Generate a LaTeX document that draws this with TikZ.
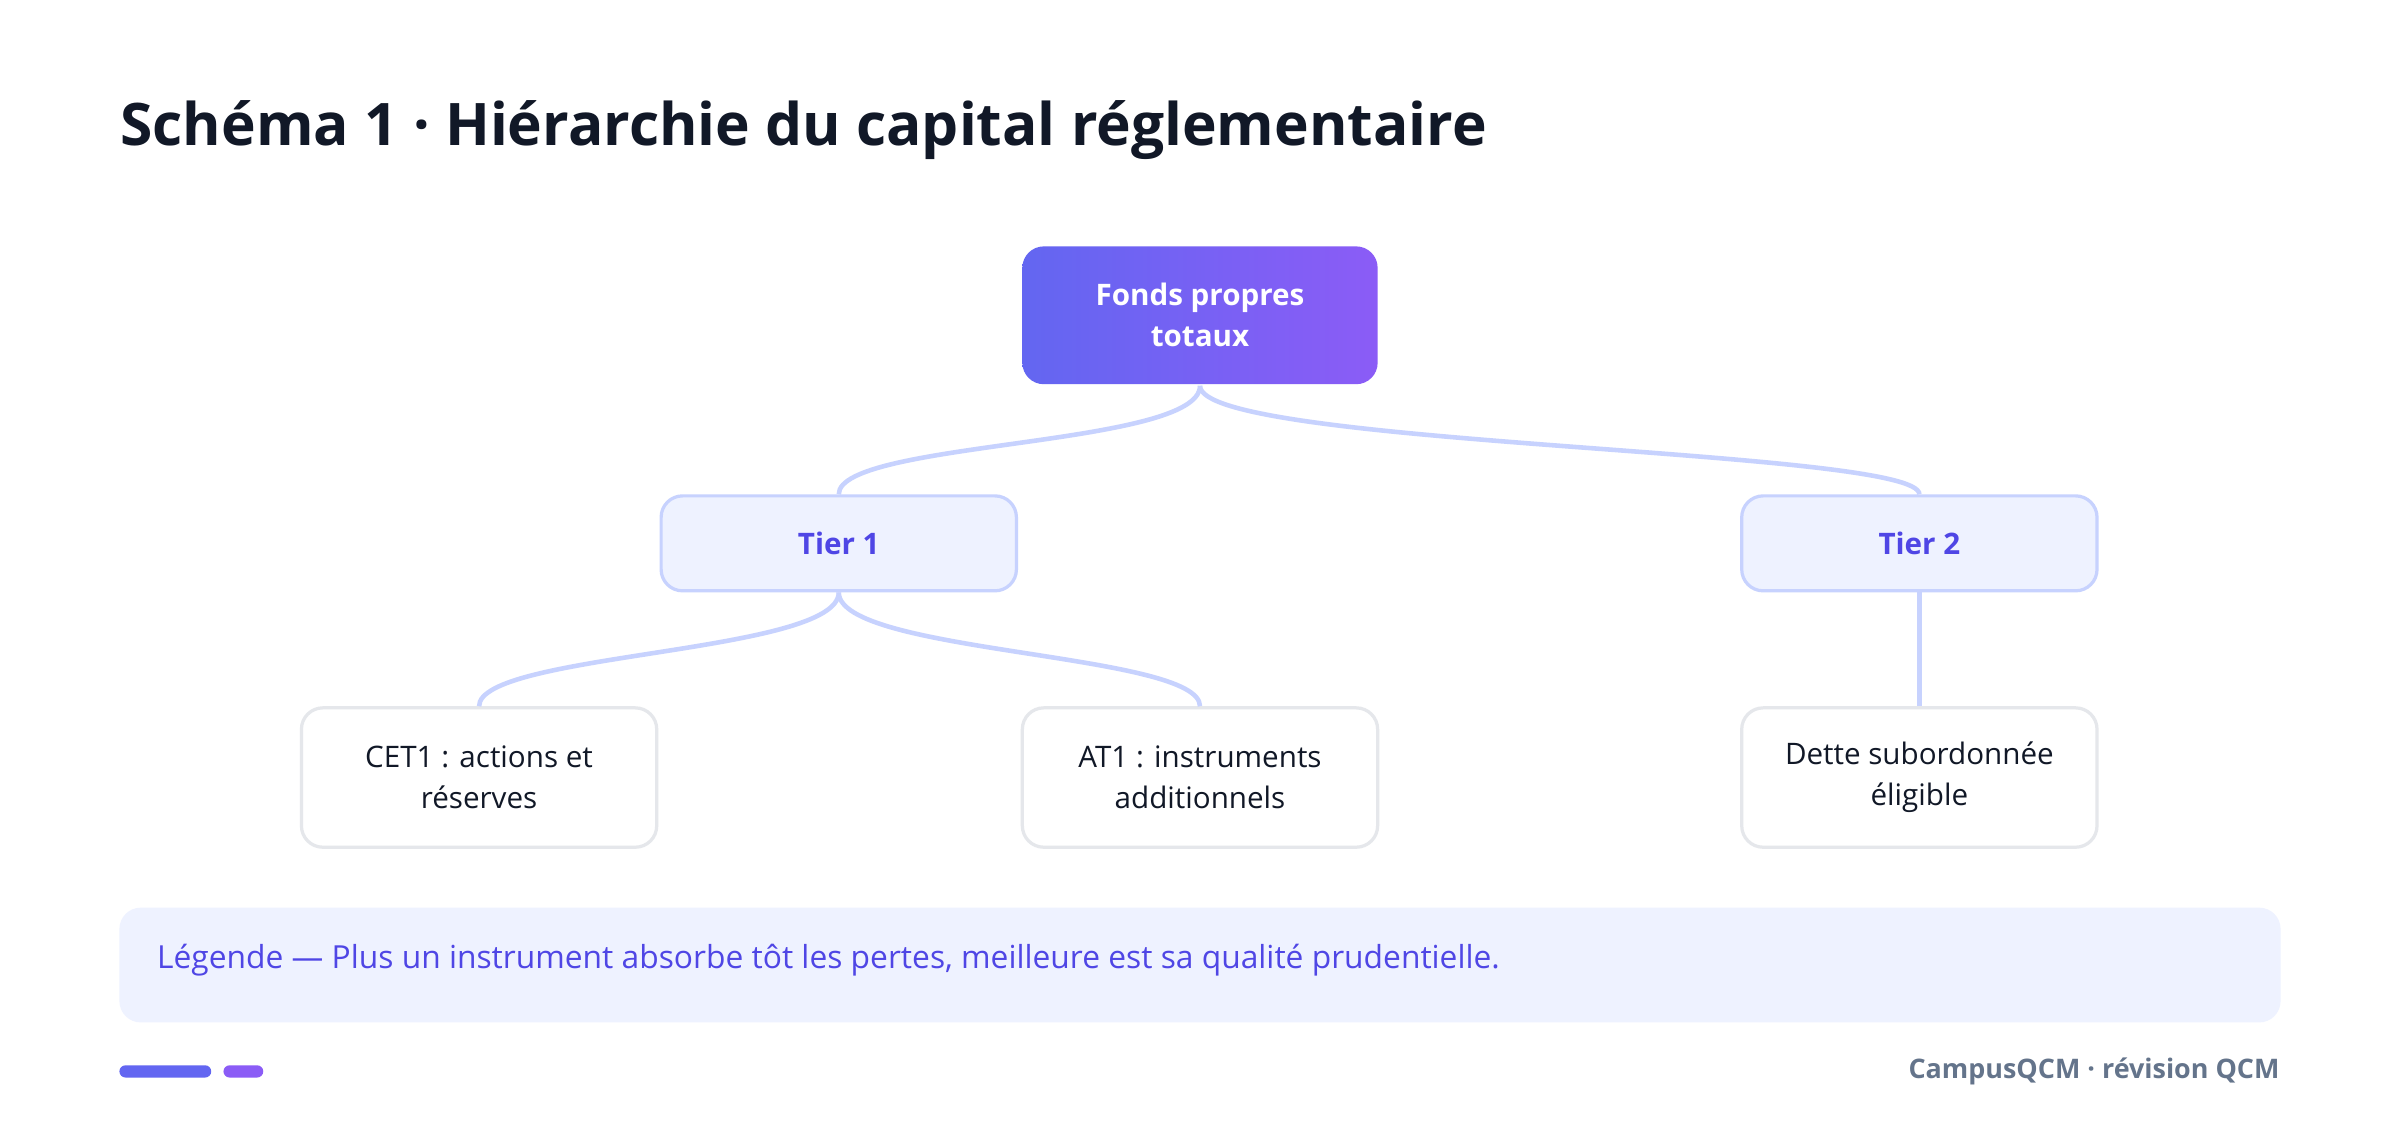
\documentclass[tikz,border=0pt]{standalone}
\usepackage{fontspec}
\setmainfont{Open Sans}
\usetikzlibrary{positioning}
\definecolor{ink}{HTML}{111827}
\definecolor{indigo}{HTML}{6366F1}
\definecolor{violet}{HTML}{8B5CF6}
\definecolor{paleblue}{HTML}{EEF2FF}
\definecolor{edgeblue}{HTML}{C7D2FE}
\definecolor{tiertext}{HTML}{4F46E5}
\definecolor{leafline}{HTML}{E5E7EB}
\definecolor{slate}{HTML}{64748B}
\tikzset{
  box/.style={rounded corners=0.14cm, minimum width=2.32cm, align=center, line width=0.6pt, font=\fontsize{5.5}{7.6}\selectfont},
  root/.style={box, minimum height=0.9cm, left color=indigo, right color=violet, text=white, font=\fontsize{5.5}{7.6}\selectfont\bfseries},
  tier/.style={box, minimum height=0.62cm, fill=paleblue, draw=edgeblue, text=tiertext, font=\fontsize{5.5}{7.6}\selectfont\bfseries},
  leaf/.style={box, minimum height=0.91cm, fill=white, draw=leafline, text=ink},
  link/.style={edgeblue, line width=0.85pt}
}
\begin{document}
\begin{tikzpicture}[x=0.01cm, y=-0.01cm]
\useasboundingbox[fill=white] (0,0) rectangle (1568,740);
% title
\node[anchor=base west, inner sep=0, text=ink, font=\fontsize{10.9}{12}\selectfont\bfseries] (title) at (78,95) {Schéma 1 · Hiérarchie du capital réglementaire};
% tree
\node[root] (total) at (784,206) {Fonds propres\\totaux};
\node[tier] (t1) at (548,355) {Tier 1};
\node[tier] (t2) at (1254,355) {Tier 2};
\node[leaf] (cet1) at (313,508) {CET1 : actions et\\réserves};
\node[leaf] (at1) at (784,508) {AT1 : instruments\\additionnels};
\node[leaf] (t2debt) at (1254,508) {Dette subordonnée\\éligible};
\draw[link] (total.south) .. controls +(0,40) and +(0,-35) .. (t1.north);
\draw[link] (total.south) .. controls +(0,40) and +(0,-30) .. (t2.north);
\draw[link] (t1.south) .. controls +(0,40) and +(0,-35) .. (cet1.north);
\draw[link] (t1.south) .. controls +(0,40) and +(0,-35) .. (at1.north);
\draw[link] (t2.south) -- (t2debt.north);
% legend
\fill[paleblue, rounded corners=0.14cm] (78,593) rectangle (1490,668);
\node[anchor=west, inner sep=0, text=tiertext, font=\fontsize{5.9}{7}\selectfont] (legend) at (102,627) {Légende — Plus un instrument absorbe tôt les pertes, meilleure est sa qualité prudentielle.};
% footer
\fill[indigo, rounded corners=0.04cm] (78,696) rectangle (138,704);
\fill[violet, rounded corners=0.04cm] (146,696) rectangle (172,704);
\node[anchor=east, inner sep=0, text=slate, font=\fontsize{5}{6}\selectfont\bfseries] (footer) at (1490,700) {CampusQCM · révision QCM};
\end{tikzpicture}
\end{document}
